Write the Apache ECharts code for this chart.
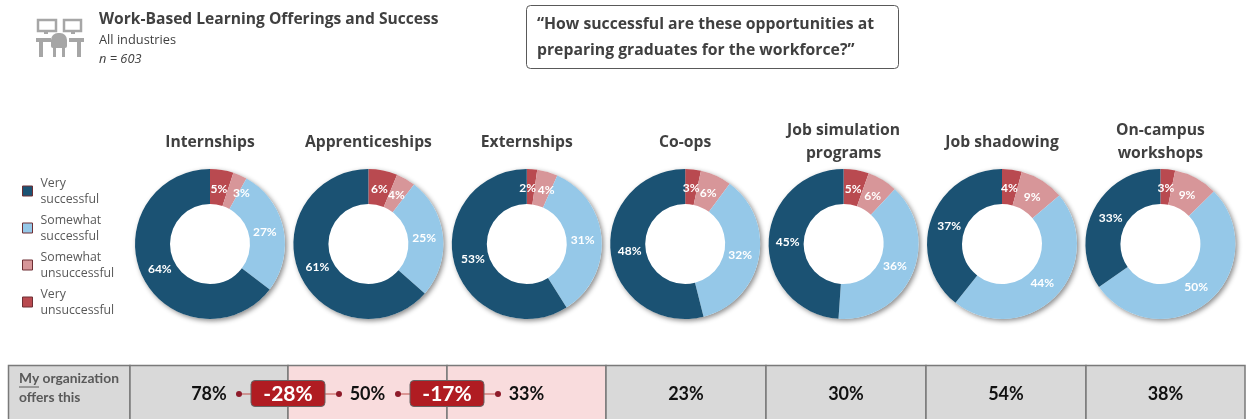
<!DOCTYPE html>
<html>
<head>
<meta charset="utf-8">
<title>Work-Based Learning Offerings and Success</title>
<style>html,body{margin:0;padding:0;background:#fff}#chart{width:1246px;height:419px}</style>
<script src="https://cdn.jsdelivr.net/npm/echarts@6/dist/echarts.min.js"></script>
</head>
<body>
<div id="chart"></div>
<script>
// Survey responses by programme, percent of respondents
const programmes = ['Internships', 'Apprenticeships', 'Externships', 'Co-ops', 'Job simulation\nprograms', 'Job shadowing', 'On-campus\nworkshops'];
const ratings = ['Very unsuccessful', 'Somewhat unsuccessful', 'Somewhat successful', 'Very successful'];
const veryUnsuccessful = [5, 6, 2, 3, 5, 4, 3];
const somewhatUnsuccessful = [3, 4, 4, 6, 6, 9, 9];
const somewhatSuccessful = [27, 25, 31, 32, 36, 44, 50];
const verySuccessful = [64, 61, 53, 48, 45, 37, 33];
const offered = [78, 50, 33, 23, 30, 54, 38];
const gaps = [-28, -17];

const ratingSeries = [veryUnsuccessful, somewhatUnsuccessful, somewhatSuccessful, verySuccessful];
const ratingColors = ['#b94a50', '#d79699', '#95c8e8', '#1b5273'];

const firstCx = 210, stepCx = 158.4, cy = 244;
const TEXT = '#404040';
const HEAD_FONT = '"Open Sans", sans-serif';
const BODY_FONT = 'Lato, sans-serif';

const centerX = i => firstCx + stepCx * i;

// Pull ring labels slightly toward the hole; tight neighbours also slide sideways to stay apart
const labelInset = 4.5;
const labelSlide = { '0-1': 9, '2-0': -3, '2-1': 4 };
const ringLabelLayout = i => params => {
  const r = params.labelRect;
  const lx = r.x + r.width / 2 - centerX(i), ly = r.y + r.height / 2 - cy;
  const d = Math.hypot(lx, ly) || 1;
  const slide = labelSlide[i + '-' + params.dataIndex] || 0;
  return { dx: -lx / d * labelInset + slide, dy: -ly / d * labelInset, hideOverlap: false };
};

// Each doughnut: a white disc carrying the drop shadow, with the ring on top
const series = [];
programmes.forEach((name, i) => {
  series.push({
    type: 'pie', z: 1, silent: true, center: [centerX(i), cy], radius: [0, 75],
    label: { show: false }, labelLine: { show: false }, animation: false,
    itemStyle: { color: '#fff', shadowColor: 'rgba(0,0,0,0.45)', shadowBlur: 5, shadowOffsetX: 2, shadowOffsetY: 2 },
    data: [{ name: 'disc' + i, value: 1 }]
  });
  series.push({
    type: 'pie', z: 2, name, center: [centerX(i), cy], radius: [40, 75], startAngle: 90,
    animation: false, avoidLabelOverlap: false, labelLine: { show: false },
    labelLayout: ringLabelLayout(i),
    label: { show: true, position: 'inside', color: '#fff', fontFamily: BODY_FONT, fontWeight: 'bold', fontSize: 12, formatter: p => p.value + '%' },
    data: ratings.map((r, k) => ({ name: r.replace(' ', '\n'), value: ratingSeries[k][i], itemStyle: { color: ratingColors[k] } }))
  });
});

// Column headings above the doughnuts
const titles = [
  { text: 'Work-Based Learning Offerings and Success', left: 99, top: 12, padding: 0, textStyle: { fontFamily: HEAD_FONT, fontSize: 15.6, fontWeight: 'bold', color: TEXT } }
];
programmes.forEach((name, i) => {
  const twoLines = name.includes('\n');
  titles.push({
    text: name, left: centerX(i), top: twoLines ? 119 : 131, padding: 0, textAlign: 'center',
    textStyle: { fontFamily: HEAD_FONT, fontSize: 15.7, fontWeight: 'bold', color: TEXT, lineHeight: 23 }
  });
});

const graphics = [];
const rect = (x, y, w, h, style, extra) => graphics.push(Object.assign({ type: 'rect', shape: { x, y, width: w, height: h }, style }, extra || {}));
const text = (x, y, t, style) => graphics.push({ type: 'text', x, y, style: Object.assign({ text: t, verticalAlign: 'middle', fill: TEXT }, style) });

// Workstation pictogram
const ICON = '#a6a6a6';
rect(38, 20, 18, 11, { fill: 'none', stroke: ICON, lineWidth: 2.5 });
rect(64, 20, 17, 11, { fill: 'none', stroke: ICON, lineWidth: 2.5 });
rect(44, 31, 4, 3, { fill: ICON });
rect(71, 31, 4, 3, { fill: ICON });
rect(36, 38, 15, 4, { fill: ICON });
rect(69, 38, 15, 4, { fill: ICON });
rect(39, 41, 4, 16, { fill: ICON });
rect(77, 41, 4, 16, { fill: ICON });
rect(51, 33, 16, 15, { fill: ICON }, { shape: { x: 51, y: 33, width: 16, height: 15, r: [7, 7, 2, 2] } });
rect(53, 48, 3, 9, { fill: ICON });
rect(62, 48, 3, 9, { fill: ICON });

// Header text and question box
text(99, 40, 'All industries', { fontFamily: HEAD_FONT, fontSize: 12.8 });
text(99, 59, 'n = 603', { fontFamily: HEAD_FONT, fontSize: 12.8, fontStyle: 'italic' });
rect(526.5, 5.5, 372, 63, { fill: '#fff', stroke: '#595959', lineWidth: 1 }, { shape: { x: 526.5, y: 5.5, width: 372, height: 63, r: 4 } });
text(537, 25, '“How successful are these opportunities at', { fontFamily: HEAD_FONT, fontSize: 15.75, fontWeight: 'bold' });
text(537, 51, 'preparing graduates for the workforce?”', { fontFamily: HEAD_FONT, fontSize: 15.75, fontWeight: 'bold' });

// Offer-rate strip along the bottom
const stripTop = 365.5, stripH = 60;
const colEdges = [130, 288, 447, 606, 766, 926, 1086, 1245];
const GREY = '#d9d9d9', PINK = '#f9dcdd', RULE = '#7a7a7a';
rect(8.5, stripTop, 121.5, stripH, { fill: GREY, stroke: RULE, lineWidth: 1.5 });
offered.forEach((v, i) => {
  const x0 = colEdges[i], x1 = colEdges[i + 1];
  rect(x0, stripTop, x1 - x0, stripH, { fill: i === 1 || i === 2 ? PINK : GREY, stroke: RULE, lineWidth: 1.5 });
  const tx = i === 0 ? 209 : (x0 + x1) / 2;
  text(tx, 394, v + '%', { fontFamily: BODY_FONT, fontWeight: 'bold', fontSize: 18, fill: '#111', align: 'center' });
});
text(19, 379, 'My organization', { fontFamily: BODY_FONT, fontWeight: 'bold', fontSize: 13.8, fill: '#595959' });
text(19, 397.5, 'offers this', { fontFamily: BODY_FONT, fontWeight: 'bold', fontSize: 13.8, fill: '#595959' });
graphics.push({ type: 'line', shape: { x1: 19, y1: 387, x2: 39, y2: 387 }, style: { stroke: '#595959', lineWidth: 1 } });

// Drop between adjacent programmes: dot, rule, badge, rule, dot
gaps.forEach((g, i) => {
  const mid = colEdges[i + 1];
  graphics.push({ type: 'line', z: 5, shape: { x1: mid - 49, y1: 394, x2: mid + 51, y2: 394 }, style: { stroke: '#c0504d', lineWidth: 1.2 } });
  [mid - 49, mid + 51].forEach(cx => graphics.push({ type: 'circle', z: 6, shape: { cx, cy: 394, r: 3 }, style: { fill: '#8e1b2a' } }));
  graphics.push({ type: 'rect', z: 7, shape: { x: mid - 37, y: 380.5, width: 74, height: 26, r: 4 }, style: { fill: '#b01c22', stroke: '#666', lineWidth: 1 } });
  graphics.push({ type: 'text', z: 8, x: mid, y: 394, style: { text: g + '%', fontFamily: BODY_FONT, fontWeight: 'bold', fontSize: 21, fill: '#fff', align: 'center', verticalAlign: 'middle' } });
});

const chart = echarts.init(document.getElementById('chart'), null, { renderer: 'canvas' });
chart.setOption({
  animation: false,
  backgroundColor: '#fff',
  title: titles,
  legend: {
    orient: 'vertical', left: 22, top: 175, padding: 0, itemWidth: 10, itemHeight: 10, itemGap: 5, selectedMode: false, icon: 'rect',
    itemStyle: { borderColor: '#6e2f34', borderWidth: 1 },
    textStyle: { fontFamily: HEAD_FONT, fontSize: 12.3, color: '#595959', lineHeight: 16, padding: [0, 0, 0, 3] },
    data: ratings.slice().reverse().map(r => r.replace(' ', '\n'))
  },
  series,
  graphic: { elements: graphics }
});
</script>
</body>
</html>
